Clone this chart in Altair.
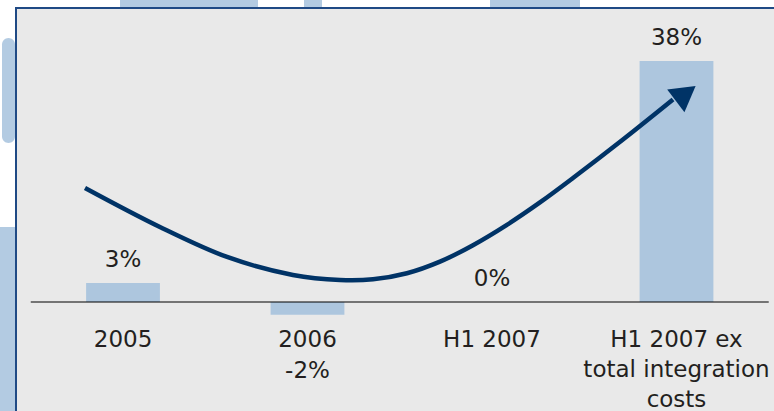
import altair as alt
import pandas as pd

# Operating margin by period
categories = ["2005", "2006", "H1 2007", "H1 2007 ex\ntotal integration\ncosts"]
margin_pct = [3, -2, 0, 38]
margin_labels = ["3%", "-2%", "0%", "38%"]

# Trend arrow: x in category slots (slot i spans i..i+1), y in percent
trend_x = [0.294, 0.700, 1.064, 1.421, 1.676, 1.855, 2.039, 2.218, 2.397,
           2.581, 2.760, 2.939, 3.210, 3.481]
trend_y = [17.98, 11.83, 7.10, 4.26, 3.47, 3.58, 4.53, 6.36, 8.96,
           12.17, 15.70, 19.55, 25.62, 31.93]
head_x = [3.55]
head_y = [32.9]

FONT = "DejaVu Sans"
TEXT = "#231F20"
BAR = "#ADC6DE"
NAVY = "#003366"
FRAME = "#1F4A85"
WASH = "#B3CBE2"

W, H = 758, 403

pos = [i + 0.5 for i in range(len(categories))]
bars = pd.DataFrame({
    "category": categories,
    "pos": pos,
    "x0": [p - 0.2 for p in pos],
    "x1": [p + 0.2 for p in pos],
    "value": margin_pct,
    "zero": [0] * len(categories),
    "label": margin_labels,
})
axis_line = pd.DataFrame({"x0": [0], "x1": [len(categories)], "y": [0]})
trend = pd.DataFrame({"x": trend_x, "y": trend_y, "step": list(range(len(trend_x)))})
head = pd.DataFrame({"x": head_x, "y": head_y})
one = pd.DataFrame({"k": [0]})

xs = alt.Scale(domain=[-0.08, 4.0285], nice=False, zero=False)
ys = alt.Scale(domain=[-17.19, 46.36], nice=False, zero=False)


def wash(x, x2, y, y2, radius=0, color=WASH):
    return alt.Chart(one).mark_rect(color=color, cornerRadius=radius).encode(
        x=alt.value(x), x2=alt.value(x2), y=alt.value(y), y2=alt.value(y2)
    )


background = [
    wash(-16, -1, 219, H),
    wash(-14, -1, 30, 135, radius=10),
    wash(104, 242, -8, -1),
    wash(288, 306, -8, -1),
    wash(474, 564, -8, -1),
]

frame_left = alt.Chart(one).mark_rule(color=FRAME, strokeWidth=2).encode(
    x=alt.value(0), y=alt.value(-1), y2=alt.value(H)
)
frame_top = alt.Chart(one).mark_rule(color=FRAME, strokeWidth=2).encode(
    x=alt.value(-1), x2=alt.value(W), y=alt.value(0)
)

bar_layer = alt.Chart(bars).mark_bar(color=BAR).encode(
    x=alt.X("x0:Q", scale=xs, axis=None),
    x2="x1:Q",
    y=alt.Y("value:Q", scale=ys, axis=None),
    y2="zero:Q",
)

baseline = alt.Chart(axis_line).mark_rule(color="#000000", strokeWidth=1.2).encode(
    x=alt.X("x0:Q", scale=xs, axis=None),
    x2="x1:Q",
    y=alt.Y("y:Q", scale=ys, axis=None),
)

pos_labels = alt.Chart(bars).transform_filter("datum.value >= 0").mark_text(
    font=FONT, fontSize=23, color=TEXT, baseline="middle", dy=-23
).encode(
    x=alt.X("pos:Q", scale=xs, axis=None),
    y=alt.Y("value:Q", scale=ys, axis=None),
    text="label:N",
)

neg_labels = alt.Chart(bars).transform_filter("datum.value < 0").mark_text(
    font=FONT, fontSize=23, color=TEXT, baseline="middle", dy=56
).encode(
    x=alt.X("pos:Q", scale=xs, axis=None),
    y=alt.Y("value:Q", scale=ys, axis=None),
    text="label:N",
)

cat_labels = alt.Chart(bars).mark_text(
    font=FONT, fontSize=23, color=TEXT, baseline="alphabetic", dy=45,
    lineBreak="\n", lineHeight=30,
).encode(
    x=alt.X("pos:Q", scale=xs, axis=None),
    y=alt.Y("zero:Q", scale=ys, axis=None),
    text="category:N",
)

trend_line = alt.Chart(trend).mark_line(
    color=NAVY, strokeWidth=4.5, interpolate="catmull-rom"
).encode(
    x=alt.X("x:Q", scale=xs, axis=None),
    y=alt.Y("y:Q", scale=ys, axis=None),
    order="step:Q",
)

arrow_head = alt.Chart(head).mark_point(
    shape="triangle-up", filled=True, size=820, angle=53, color=NAVY,
    opacity=1, strokeWidth=0,
).encode(
    x=alt.X("x:Q", scale=xs, axis=None),
    y=alt.Y("y:Q", scale=ys, axis=None),
)

chart = alt.layer(
    *background,
    bar_layer,
    baseline,
    pos_labels,
    neg_labels,
    cat_labels,
    trend_line,
    arrow_head,
    frame_left,
    frame_top,
).properties(
    width=W,
    height=H,
    padding={"left": 16, "top": 8, "right": 0, "bottom": 0},
    autosize=alt.AutoSizeParams(type="none"),
    background="white",
).configure_view(
    fill="#E9E9E9", strokeWidth=0
)

chart.save("out.html", embed_options={"renderer": "svg", "actions": False})
